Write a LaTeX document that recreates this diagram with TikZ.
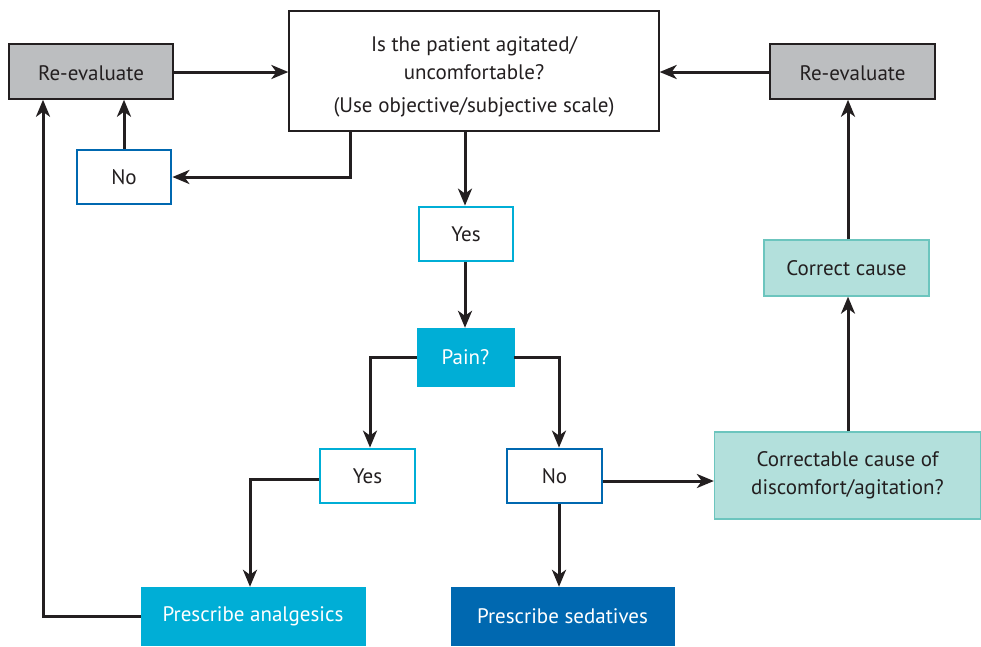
\documentclass[tikz,border=0pt]{standalone}
\usepackage{fontspec}
\setmainfont{PT Sans}
\usetikzlibrary{arrows.meta}
\definecolor{txt}{HTML}{231F20}
\definecolor{grayfill}{HTML}{BCBEC0}
\definecolor{cyanc}{HTML}{00AED6}
\definecolor{bluec}{HTML}{0068B0}
\definecolor{tealfill}{HTML}{B3E0DC}
\definecolor{tealline}{HTML}{6CC5BE}
\tikzset{
  base/.style={rectangle, inner sep=0pt, align=center, font=\fontsize{21}{28}\selectfont, text=txt},
  graybox/.style={base, draw=txt, line width=1.5pt, fill=grayfill},
  whitebox/.style={base, draw=txt, line width=1.3pt, fill=white},
  cyanline/.style={base, draw=cyanc, line width=2.8pt, fill=white},
  blueline/.style={base, draw=bluec, line width=2.8pt, fill=white},
  cyanfill/.style={base, draw=cyanc, fill=cyanc, text=white},
  bluefill/.style={base, draw=bluec, fill=bluec, text=white},
  tealbox/.style={base, draw=tealline, line width=1.3pt, fill=tealfill},
  conn/.style={draw=txt, line width=3pt, -{Stealth[length=17pt,width=14pt,inset=5pt]}},
}
\begin{document}
\begin{tikzpicture}[x=1pt,y=-1pt]
\useasboundingbox (0,0) rectangle (981,646);
\node[graybox, minimum width=164pt, minimum height=55pt] (reL) at (91,71.5) {\raisebox{-2pt}[\height][\depth]{Re-evaluate}};
\node[whitebox, minimum width=370pt, minimum height=120pt] (top) at (474,71) {\raisebox{-5pt}[\height][\depth]{\begin{tabular}{@{}c@{}}Is the patient agitated/\\uncomfortable?\\[5pt](Use objective/subjective scale)\end{tabular}}};
\node[graybox, minimum width=165pt, minimum height=55pt] (reR) at (852.5,71.5) {\raisebox{-2pt}[\height][\depth]{Re-evaluate}};
\node[blueline, minimum width=94pt, minimum height=54pt] (noT) at (124,177) {No};
\node[cyanline, minimum width=94pt, minimum height=54pt] (yesT) at (466,234) {Yes};
\node[cyanfill, minimum width=97pt, minimum height=58pt] (pain) at (465.5,357) {Pain?};
\node[cyanline, minimum width=95pt, minimum height=54pt] (yes2) at (367.5,476) {Yes};
\node[blueline, minimum width=95pt, minimum height=54pt] (no2) at (554.5,476) {No};
\node[tealbox, minimum width=266pt, minimum height=87pt] (corr) at (847.5,475.5) {Correctable cause of\\discomfort/agitation?};
\node[tealbox, minimum width=165pt, minimum height=56pt] (cc) at (846.5,268) {Correct cause};
\node[cyanfill, minimum width=224pt, minimum height=58pt] (pa) at (253,616) {Prescribe analgesics};
\node[bluefill, minimum width=223pt, minimum height=58pt] (ps) at (562.5,616) {Prescribe sedatives};

\draw[conn] (reL.east |- 0,72) -- (top.west |- 0,72);
\draw[conn] (reR.west |- 0,72) -- (top.east |- 0,72);
\draw[conn] (top.south -| 350,0) |- (noT.east);
\draw[conn] (noT.north) -- (reL.south -| noT.north);
\draw[conn] (top.south -| 465,0) -- (yesT.north -| 465,0);
\draw[conn] (yesT.south -| 465,0) -- (pain.north -| 465,0);
\draw[conn] (pain.west) -| (yes2.north -| 370,0);
\draw[conn] (pain.east) -| (no2.north -| 559,0);
\draw[conn] (yes2.west |- 0,479) -| (pa.north -| 250,0);
\draw[conn] (no2.south -| 559,0) -- (ps.north -| 559,0);
\draw[conn] (no2.east |- 0,481) -- (corr.west |- 0,481);
\draw[conn] (corr.north -| 848,0) -- (cc.south -| 848,0);
\draw[conn] (cc.north -| 848,0) -- (reR.south -| 848,0);
\draw[conn] (pa.west) -| (reL.south -| 43,0);
\end{tikzpicture}
\end{document}
